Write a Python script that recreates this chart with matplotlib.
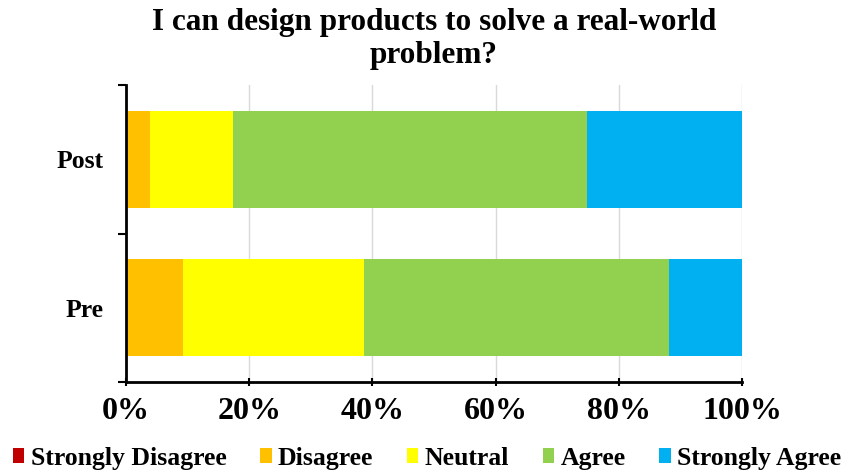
import matplotlib
matplotlib.use("Agg")
import matplotlib.pyplot as plt
import numpy as np

groups = ["Pre", "Post"]
categories = ["Strongly Disagree", "Disagree", "Neutral", "Agree", "Strongly Agree"]
strongly_disagree = [0.0, 0.0]
disagree = [9.3, 3.9]
neutral = [29.4, 13.5]
agree = [49.4, 57.4]
strongly_agree = [11.9, 25.2]
colors = ["#C00000", "#FFC000", "#FFFF00", "#92D050", "#00B0F0"]
title = "I can design products to solve a real-world\nproblem?"
xtick_labels = ["0%", "20%", "40%", "60%", "80%", "100%"]

plt.rcParams["font.family"] = ["Liberation Serif", "DejaVu Serif"]
plt.rcParams["font.weight"] = "bold"

fig = plt.figure(figsize=(8.44, 4.73), dpi=100)
ax = fig.add_axes([126 / 844, 1 - 382 / 473, (742 - 126) / 844, (382 - 85) / 473])

series = [strongly_disagree, disagree, neutral, agree, strongly_agree]
y = np.arange(len(groups))
left = np.zeros(len(groups))
for name, vals, c in zip(categories, series, colors):
    vals = np.array(vals)
    ax.barh(y, vals, left=left, height=0.65, color=c, label=name, zorder=3)
    left += vals

ax.set_xlim(0, 100)
ax.set_ylim(-0.5, 1.5)

ax.set_xticks(np.arange(0, 101, 20))
ax.set_xticklabels(xtick_labels, fontsize=23, fontweight="bold")
ax.tick_params(axis="x", direction="inout", length=6, width=1.5, pad=8)
ax.xaxis.grid(True, color="#d9d9d9", linewidth=1.0, zorder=0)

ax.set_yticks([-0.5, 0.5, 1.5])
ax.set_yticklabels([])
ax.set_yticks(y, minor=True)
ax.set_yticklabels(groups, minor=True, fontsize=18.5, fontweight="bold")
ax.tick_params(axis="y", which="major", direction="out", length=6, width=1.5)
ax.tick_params(axis="y", which="minor", length=0, pad=16)

for s in ["top", "right"]:
    ax.spines[s].set_visible(False)
for s in ["left", "bottom"]:
    ax.spines[s].set_linewidth(2)
    ax.spines[s].set_color("black")
    ax.spines[s].set_zorder(4)

ax.set_title(title, fontsize=22.5, fontweight="bold", pad=16, linespacing=1.15)

fig.legend(loc="center", bbox_to_anchor=(0.506, 1 - 458 / 473), ncol=5,
           frameon=False, handlelength=0.45, handleheight=0.55,
           handletextpad=0.25, columnspacing=1.3, borderaxespad=0,
           borderpad=0, prop={"weight": "bold", "size": 18.5})

fig.savefig("out.png", dpi=100)
